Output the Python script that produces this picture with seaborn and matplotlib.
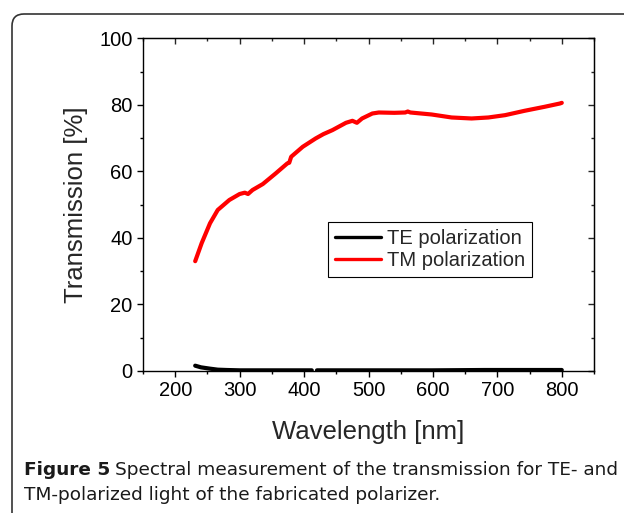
import numpy as np
import pandas as pd
import matplotlib
matplotlib.use("Agg")
import matplotlib.pyplot as plt
import seaborn as sns
from matplotlib.patches import FancyBboxPatch
from matplotlib.ticker import MultipleLocator

# data
tm_wl = [231, 241, 254, 266, 284, 300, 308, 313, 320, 336, 356, 374, 377, 380,
         398, 418, 430, 444, 465, 475, 482, 490, 506, 516, 540, 557, 561, 565,
         598, 629, 660, 686, 712, 742, 773, 797, 800]
tm_t = [33.0, 38.4, 44.4, 48.4, 51.4, 53.2, 53.6, 53.2, 54.4, 56.2, 59.4, 62.4,
        62.6, 64.4, 67.4, 69.9, 71.2, 72.4, 74.6, 75.2, 74.6, 75.9, 77.4, 77.7,
        77.6, 77.7, 78.0, 77.7, 77.1, 76.2, 75.9, 76.2, 76.9, 78.2, 79.4, 80.4, 80.6]

# TE curve has a small gap near 415 nm
te_wl_a = [231, 240, 254, 266, 280, 300, 350, 400, 412]
te_t_a = [1.6, 1.1, 0.7, 0.4, 0.3, 0.2, 0.2, 0.2, 0.2]
te_wl_b = [420, 500, 600, 680, 700, 800]
te_t_b = [0.2, 0.2, 0.2, 0.3, 0.3, 0.3]

df = pd.concat([
    pd.DataFrame({"wl": te_wl_a, "T": te_t_a, "pol": "TE polarization", "seg": 0}),
    pd.DataFrame({"wl": te_wl_b, "T": te_t_b, "pol": "TE polarization", "seg": 1}),
    pd.DataFrame({"wl": tm_wl, "T": tm_t, "pol": "TM polarization", "seg": 2}),
])

sns.set_style("ticks")
plt.rcParams["font.family"] = ["Liberation Sans", "DejaVu Sans"]

fig = plt.figure(figsize=(6.24, 5.13), dpi=100)
ax = fig.add_axes([143 / 624, 1 - 371 / 513, 451 / 624, 332.7 / 513])

sns.lineplot(data=df, x="wl", y="T", hue="pol", units="seg", estimator=None,
             sort=False, palette={"TE polarization": "black", "TM polarization": "#ff0000"},
             linewidth=3, ax=ax)

ax.set_xlim(150, 850)
ax.set_ylim(0, 100)
ax.set_xticks([200, 300, 400, 500, 600, 700, 800])
ax.xaxis.set_minor_locator(MultipleLocator(50))
ax.yaxis.set_major_locator(MultipleLocator(20))
ax.yaxis.set_minor_locator(MultipleLocator(10))
ax.set_xlim(150, 850)

for s in ax.spines.values():
    s.set_visible(True)
    s.set_color("black")
    s.set_linewidth(1.0)

ax.tick_params(which="both", direction="out", top=False, right=False,
               colors="black", labelsize=14.5, width=1.0)
ax.tick_params(which="major", length=4)
ax.tick_params(which="minor", length=2.5)

# mirrored inward ticks on top and right
axt = ax.secondary_xaxis("top")
axt.xaxis.set_major_locator(MultipleLocator(100))
axt.xaxis.set_minor_locator(MultipleLocator(50))
axt.tick_params(which="both", direction="in", labeltop=False, width=1.0)
axt.tick_params(which="major", length=4)
axt.tick_params(which="minor", length=2.5)
axr = ax.secondary_yaxis("right")
axr.yaxis.set_major_locator(MultipleLocator(20))
axr.yaxis.set_minor_locator(MultipleLocator(10))
axr.tick_params(which="both", direction="in", labelright=False, width=1.0)
axr.tick_params(which="major", length=4)
axr.tick_params(which="minor", length=2.5)

ax.set_xlabel("Wavelength [nm]", fontsize=18.5, labelpad=14)
ax.set_ylabel("Transmission [%]", fontsize=18.5, labelpad=8)

leg = ax.legend(loc="upper left", bbox_to_anchor=(0.41, 0.448), borderaxespad=0,
                fontsize=14.5, frameon=True, fancybox=False, framealpha=1,
                edgecolor="black", handlelength=2.3, handletextpad=0.3,
                borderpad=0.35, labelspacing=0.15, title=None)
leg.get_frame().set_linewidth(0.8)
for h in leg.get_lines():
    h.set_linewidth(2.4)

# rounded outer frame
frame = FancyBboxPatch((0.12, -0.5), 7.0, 5.49,
                       boxstyle="round,pad=0,rounding_size=0.12",
                       transform=fig.dpi_scale_trans, facecolor="none",
                       edgecolor="#333333", linewidth=1.2, clip_on=False)
fig.patches.append(frame)

# caption
cap_font = ["DejaVu Sans"]
cap_size = 13.3
t1 = fig.text(24 / 624, 1 - 475 / 513, "Figure 5", fontsize=cap_size,
              fontweight="bold", family=cap_font, va="baseline", color="#1a1a1a")
fig.canvas.draw()
bb = t1.get_window_extent()
fig.text((bb.x1 + 5) / 624, 1 - 475 / 513,
         "Spectral measurement of the transmission for TE- and",
         fontsize=cap_size, family=cap_font, va="baseline", color="#1a1a1a")
fig.text(24 / 624, 1 - 500 / 513,
         "TM-polarized light of the fabricated polarizer.",
         fontsize=cap_size, family=cap_font, va="baseline", color="#1a1a1a")

fig.savefig("out.png", dpi=100)
